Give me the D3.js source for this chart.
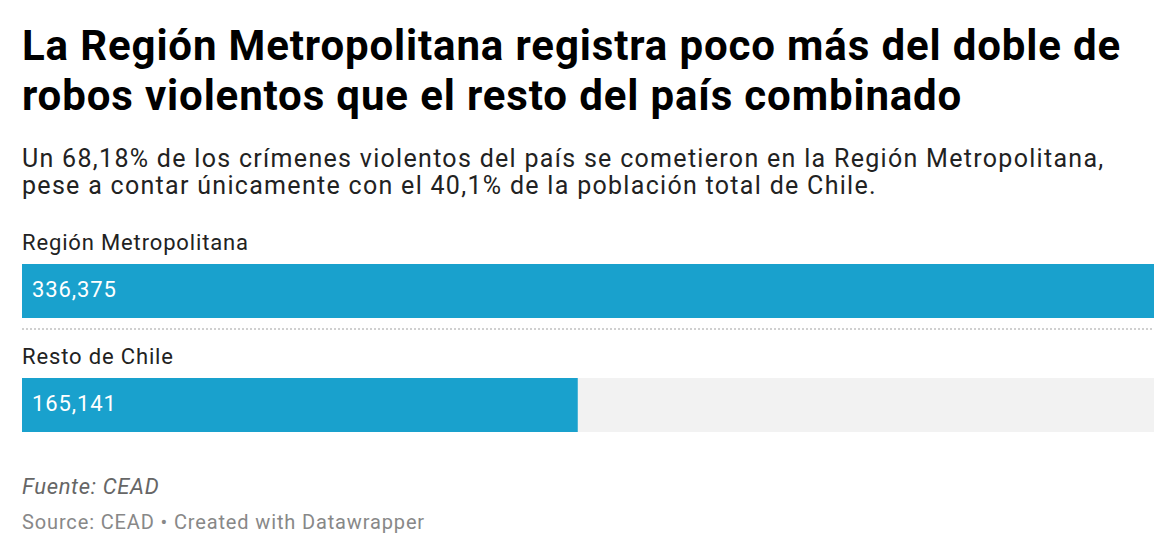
<!DOCTYPE html>
<html>
<head>
<meta charset="utf-8">
<script src="https://cdn.jsdelivr.net/npm/d3@7"></script>
<style>
	body { margin: 0; background: #fff; }
	text { font-family: Roboto, "Noto Sans", sans-serif; }
</style>
</head>
<body>
<div id="chart"></div>
<script>
let width = 1176,
	height = 556;

const categories = ['Región Metropolitana', 'Resto de Chile'];
const values = [336375, 165141];
const titleLines = [
	'La Región Metropolitana registra poco más del doble de',
	'robos violentos que el resto del país combinado'
];
const subtitleLines = [
	'Un 68,18% de los crímenes violentos del país se cometieron en la Región Metropolitana,',
	'pese a contar únicamente con el 40,1% de la población total de Chile.'
];
const notes = 'Fuente: CEAD';
const credit = 'Source: CEAD • Created with Datawrapper';

let svg = d3.select('#chart').append('svg').attr('width', width).attr('height', height);

// header
svg.selectAll('.title').data(titleLines).enter().append('text')
	.attr('x', 22).attr('y', (d, i) => 60 + i * 50)
	.attr('font-size', 42).attr('font-weight', 700).attr('fill', '#000')
	.attr('letter-spacing', 0.86)
	.text(d => d);

svg.selectAll('.subtitle').data(subtitleLines).enter().append('text')
	.attr('x', 22).attr('y', (d, i) => 167 + i * 27)
	.attr('font-size', 25).attr('fill', '#222')
	.attr('letter-spacing', 1.3)
	.text(d => d);

// bars
let x = d3.scaleLinear().domain([0, d3.max(values)]).range([22, 1154]);
let rowY = d3.scaleBand().domain(categories).range([228, 456]).padding(0);

let rows = svg.selectAll('.row').data(categories).enter().append('g')
	.attr('transform', d => `translate(0, ${rowY(d)})`);

rows.append('text')
	.attr('x', 22).attr('y', 22)
	.attr('font-size', 22).attr('fill', '#222')
	.attr('letter-spacing', 0.85)
	.text(d => d);

rows.append('rect')
	.attr('x', x(0)).attr('y', 36)
	.attr('width', x.range()[1] - x(0)).attr('height', 54)
	.attr('fill', '#f2f2f2');

rows.append('rect')
	.attr('x', x(0)).attr('y', 36)
	.attr('width', (d, i) => x(values[i]) - x(0)).attr('height', 54)
	.attr('fill', '#19a1cd');

rows.append('text')
	.attr('x', 32).attr('y', 69)
	.attr('font-size', 22).attr('fill', '#fff')
	.attr('letter-spacing', 0.9)
	.text((d, i) => d3.format(',')(values[i]));

// dotted separators between rows
svg.selectAll('.sep').data(categories.slice(1)).enter().append('line')
	.attr('x1', 22).attr('x2', 1154)
	.attr('y1', d => rowY(d) - 13).attr('y2', d => rowY(d) - 13)
	.attr('stroke', '#d0d0d0').attr('stroke-width', 2).attr('stroke-dasharray', '2,2');

// footer
svg.append('text')
	.attr('x', 22).attr('y', 494)
	.attr('font-size', 22).attr('font-style', 'italic').attr('fill', '#666')
	.attr('letter-spacing', 0.67)
	.text(notes);

svg.append('text')
	.attr('x', 22).attr('y', 529)
	.attr('font-size', 20).attr('fill', '#888')
	.attr('letter-spacing', 0.86)
	.text(credit);
</script>
</body>
</html>
